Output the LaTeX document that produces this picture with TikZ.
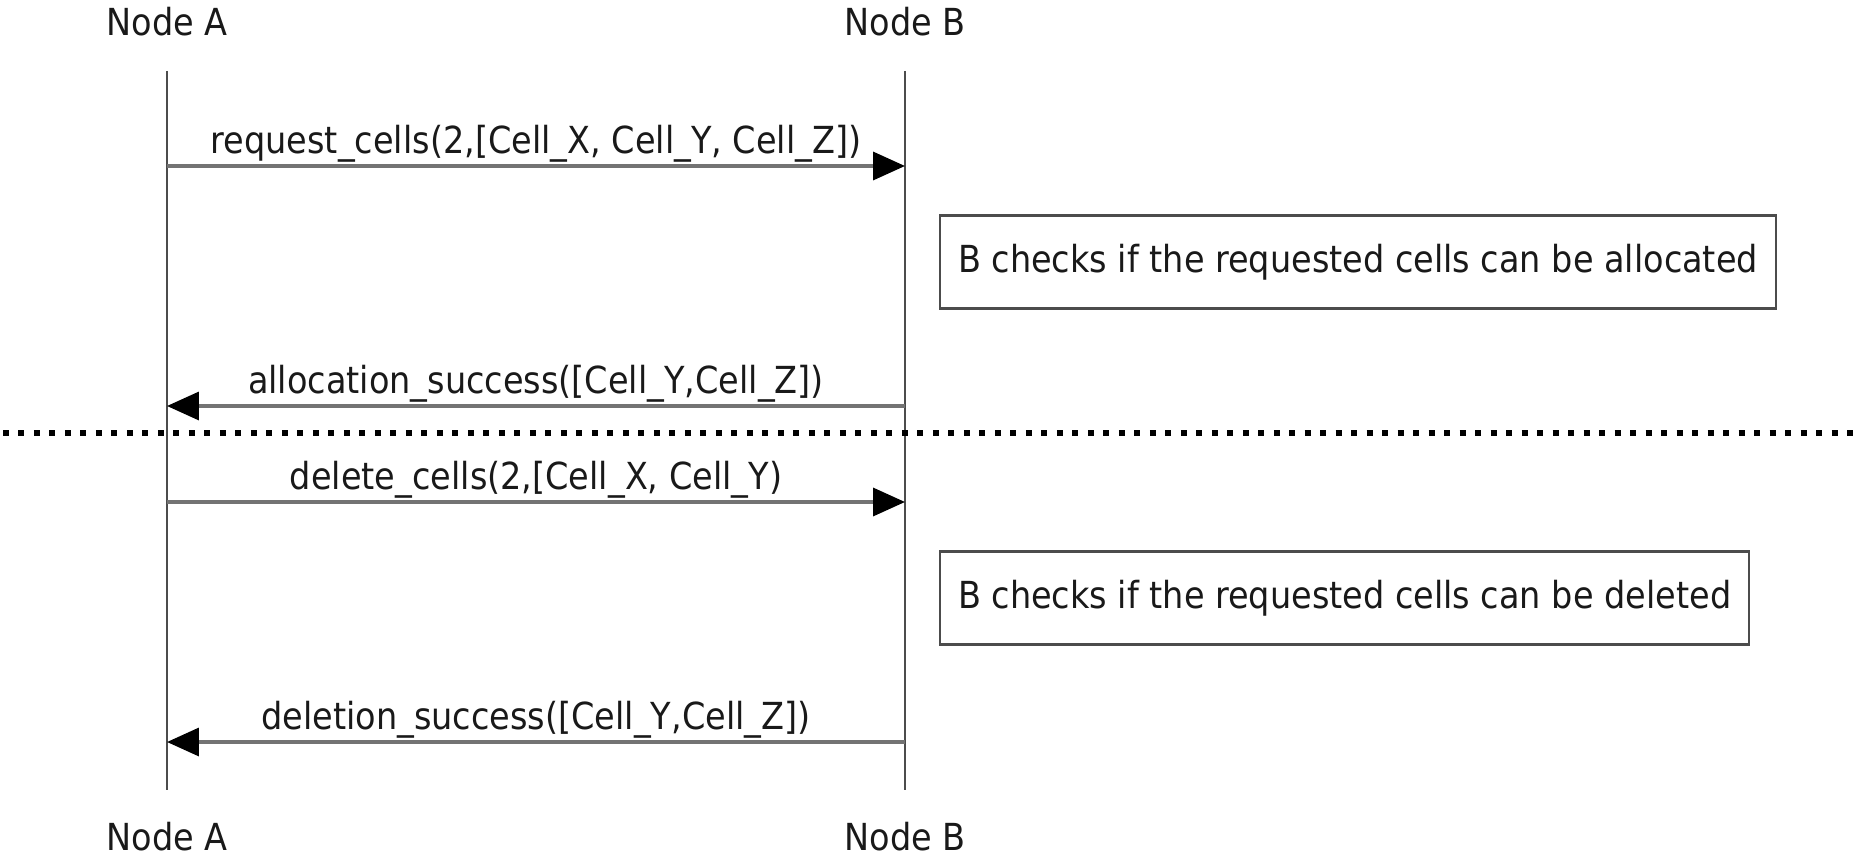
\documentclass[tikz,border=0pt]{standalone}
\usepackage{fontspec}
\setmainfont{DejaVu Sans Condensed}
\usetikzlibrary{positioning,arrows.meta}

\begin{document}
\begin{tikzpicture}[
		x=0.02cm, y=-0.02cm,
		font=\fontsize{21.2}{25}\selectfont,
		actor/.style={inner sep=0pt, text=black!90},
		life/.style={draw=black!70, line width=1.1pt},
		msg/.style={draw=black!55, line width=2pt, -{Triangle[length=0.64cm, width=0.56cm, black]}},
		lbl/.style={above=1pt, inner sep=0pt, text=black!90},
		check/.style={rectangle, draw=black!70, line width=1.2pt, inner xsep=0.36cm, minimum height=1.86cm, anchor=west, text=black!90}
	]
	\useasboundingbox (0,0) rectangle (1855,858);

	% lifelines
	\node[actor] (atop) at (167,22) {Node A};
	\node[actor] (btop) at (905,22) {Node B};
	\node[actor] (abot) at (167,837) {Node A};
	\node[actor] (bbot) at (905,837) {Node B};
	\coordinate (a0) at (167,71);
	\coordinate (a1) at (167,790);
	\coordinate (b0) at (905,71);
	\coordinate (b1) at (905,790);
	\draw[life] (a0) -- (a1);
	\draw[life] (b0) -- (b1);

	% allocation
	\coordinate (a2) at (167,166);
	\coordinate (b2) at (905,166);
	\draw[msg] (a2) -- node[lbl] {request\_cells(2,[Cell\_X, Cell\_Y, Cell\_Z])} (b2);
	\node[check] (alloc) at (939,262) {B checks if the requested cells can be allocated};
	\coordinate (a3) at (167,406);
	\coordinate (b3) at (905,406);
	\draw[msg] (b3) -- node[lbl] {allocation\_success([Cell\_Y,Cell\_Z])} (a3);

	% separator
	\coordinate (s0) at (3,433);
	\coordinate (s1) at (1855,433);
	\draw[line width=0.12cm, dash pattern=on 0.12cm off 0.19cm] (s0) -- (s1);

	% deletion
	\coordinate (a4) at (167,502);
	\coordinate (b4) at (905,502);
	\draw[msg] (a4) -- node[lbl] {delete\_cells(2,[Cell\_X, Cell\_Y)} (b4);
	\node[check] (delete) at (939,598) {B checks if the requested cells can be deleted};
	\coordinate (a5) at (167,742);
	\coordinate (b5) at (905,742);
	\draw[msg] (b5) -- node[lbl] {deletion\_success([Cell\_Y,Cell\_Z])} (a5);
\end{tikzpicture}
\end{document}
